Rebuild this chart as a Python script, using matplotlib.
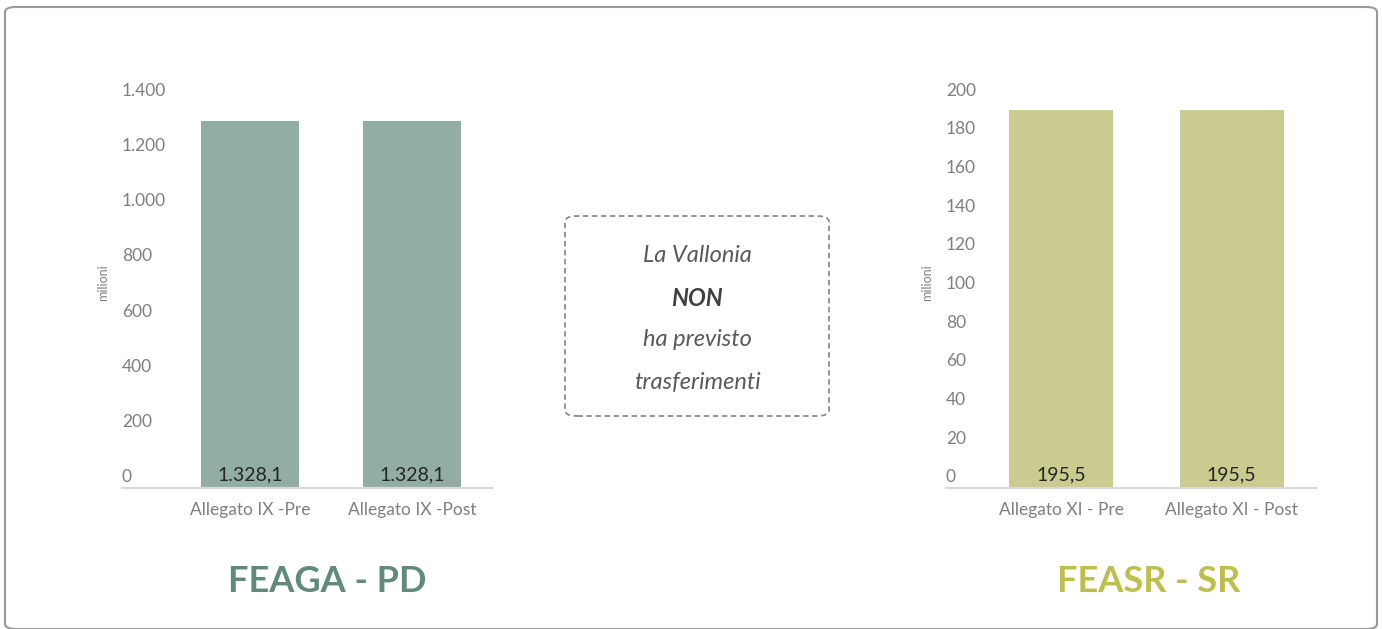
import matplotlib
matplotlib.use("Agg")
import matplotlib.pyplot as plt
import matplotlib.transforms as mtransforms
from matplotlib.patches import FancyBboxPatch

plt.rcParams['font.family'] = ['Lato', 'DejaVu Sans']

# dati (milioni di euro)
feaga_cat = ["Allegato IX -Pre", "Allegato IX -Post"]
feaga_val = [1328.1, 1328.1]
feaga_ticks = [0, 200, 400, 600, 800, 1000, 1200, 1400]
feaga_ticklabels = ["0", "200", "400", "600", "800", "1.000", "1.200", "1.400"]
feaga_labels = ["1.328,1", "1.328,1"]

feasr_cat = ["Allegato XI - Pre", "Allegato XI - Post"]
feasr_val = [195.5, 195.5]
feasr_ticks = list(range(0, 201, 20))
feasr_ticklabels = [str(t) for t in feasr_ticks]
feasr_labels = ["195,5", "195,5"]

W, H = 1382, 629
fig = plt.figure(figsize=(W / 100, H / 100), dpi=100)

# cornice esterna
fig.patches.append(FancyBboxPatch((5 / W, 0 / H), 1372 / W, 622 / H,
                                  boxstyle="round,pad=0,rounding_size=0.008",
                                  transform=fig.transFigure, fill=False,
                                  edgecolor="#9a9a9a", linewidth=1.5))

gray = "#7f7f7f"
offset = mtransforms.ScaledTranslation(0, 12 / 100, fig.dpi_scale_trans)


def bar_panel(left, right, cats, vals, ticks, ticklabels, labels, ymax,
              color, line_left, ylab_x):
    ax = fig.add_axes([left / W, (H - 488) / H, (right - left) / W, 387 / H])
    x = range(len(cats))
    ax.bar(x, vals, width=0.61, color=color)
    ax.set_xlim(-0.5, 1.5)
    ax.set_ylim(0, ymax)
    ax.set_yticks(ticks)
    ax.set_yticklabels(ticklabels)
    ax.set_xticks(list(x))
    ax.set_xticklabels(cats)
    for s in ax.spines.values():
        s.set_visible(False)
    ax.tick_params(axis='both', length=0, colors=gray, labelsize=12.5)
    # etichette y allineate a sinistra
    ax.tick_params(axis='y', pad=(left - line_left) * 0.72)
    ax.tick_params(axis='x', pad=10)
    for lab in ax.get_yticklabels():
        lab.set_horizontalalignment('left')
        lab.set_transform(lab.get_transform() + offset)
    # linea di base che si estende sotto le etichette
    fr = (line_left - left) / (right - left)
    ax.plot([fr, 1], [0, 0], transform=ax.transAxes, color="#d9d9d9",
            linewidth=1.6, clip_on=False)
    for xi, lab in zip(x, labels):
        ax.annotate(lab, (xi, 0), xytext=(0, 3), textcoords="offset points",
                    ha="center", va="bottom", fontsize=14, color="#262626")
    fig.text(ylab_x / W, 1 - 283 / H, "milioni", rotation=90, ha="center",
             va="center", fontsize=9, color=gray)
    return ax


bar_panel(169, 493, feaga_cat, feaga_val, feaga_ticks, feaga_ticklabels,
          feaga_labels, 1400, "#91ada4", 122, 103)
bar_panel(976, 1317, feasr_cat, feasr_val, feasr_ticks, feasr_ticklabels,
          feasr_labels, 200, "#cacb8e", 946, 927)

# titoli
fig.text(327 / W, 1 - 581 / H, "FEAGA - PD", ha="center", va="center",
         fontsize=26, fontweight="bold", color="#5f8a7c")
fig.text(1149 / W, 1 - 581 / H, "FEASR - SR", ha="center", va="center",
         fontsize=26, fontweight="bold", color="#bcc04a")

# riquadro centrale
fig.patches.append(FancyBboxPatch((565 / W, (H - 416) / H), 264 / W, 200 / H,
                                  boxstyle="round,pad=0,rounding_size=0.009",
                                  transform=fig.transFigure, fill=False,
                                  edgecolor="#8c8c8c", linewidth=1.3,
                                  linestyle=(0, (3, 2))))
lines = [("La Vallonia", "normal", "#595959"),
         ("NON", "bold", "#404040"),
         ("ha previsto", "normal", "#595959"),
         ("trasferimenti", "normal", "#595959")]
for i, (t, w, c) in enumerate(lines):
    fig.text(697 / W, 1 - (256 + 42 * i) / H, t, ha="center", va="center",
             fontsize=17, fontstyle="italic", fontweight=w, color=c)

fig.savefig("out.png", dpi=100)
